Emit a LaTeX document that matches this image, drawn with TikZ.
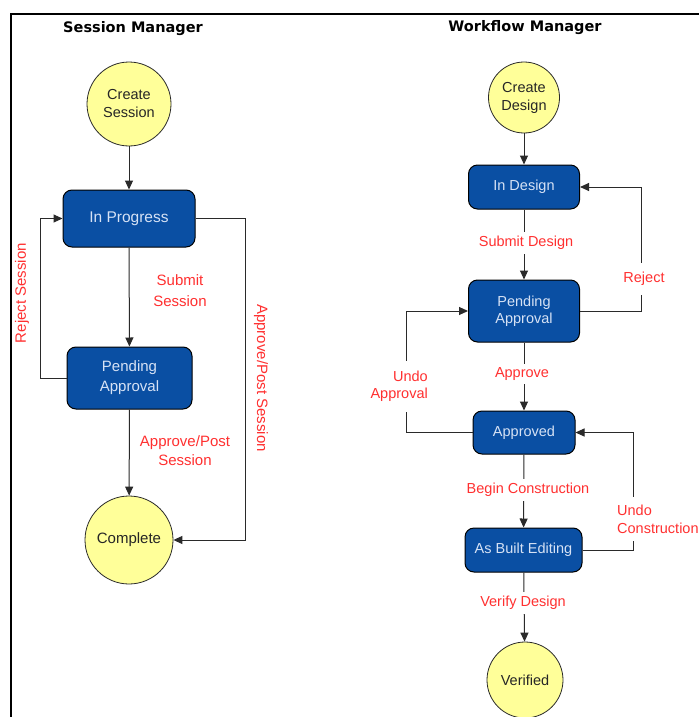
\documentclass[tikz,border=0pt]{standalone}
\usepackage{fontspec}
\setmainfont{Liberation Sans}
\newfontfamily\titlefont{DejaVu Sans}
\usetikzlibrary{arrows.meta}
\definecolor{boxblue}{HTML}{0A4FA3}
\definecolor{boxtext}{HTML}{D6E2F5}
\definecolor{circfill}{HTML}{FFFF99}
\definecolor{lblred}{HTML}{FF3030}
\definecolor{linegray}{HTML}{2A2A2A}
\begin{document}
\begin{tikzpicture}[x=1pt,y=1pt,
  state/.style={draw=black, line width=1pt, fill=boxblue, text=boxtext, rounded corners=9pt,
    inner sep=0pt, align=center, font=\fontsize{14.5}{18}\selectfont},
  endpt/.style={circle, draw=linegray, line width=0.8pt, fill=circfill, inner sep=0pt,
    align=center, font=\fontsize{14.5}{18}\selectfont, text=black!85},
  lbl/.style={text=lblred, font=\fontsize{14.5}{18}\selectfont, align=center, inner sep=1pt},
  cutlbl/.style={lbl, fill=white, inner xsep=2pt, inner ysep=4pt},
  conn/.style={draw=linegray, line width=1pt},
  arr/.style={conn, -{Triangle[length=9pt,width=8pt]}},
  ttl/.style={font=\titlefont\bfseries\fontsize{14.5}{16}\selectfont}]

\useasboundingbox (0,0) rectangle (699,-717);
\fill[white] (0,0) rectangle (699,-717);
\draw[line width=2pt] (11,-717) -- (11,-14) -- (699,-14);

% ---------- Session Manager ----------
\node[ttl] (t1) at (133,-29) {Session Manager};
\node[endpt, minimum size=84pt] (cs) at (129,-104) {Create\\Session};
\node[state, minimum width=132pt, minimum height=57pt, font=\fontsize{15.5}{19}\selectfont] (ip) at (129,-218.5) {In Progress};
\node[state, minimum width=125pt, minimum height=62pt, font=\fontsize{15}{20}\selectfont] (pa1) at (129.5,-378) {Pending\\Approval};
\node[endpt, minimum size=88pt, font=\fontsize{15}{19}\selectfont] (cp) at (129,-540) {Complete};

\draw[arr] (cs) -- (ip);
\draw[arr] (ip) -- (pa1);
\draw[arr] (pa1) -- (cp);
\draw[arr] (pa1.west) -- ++(-26,0) |- (ip.west);
\draw[arr] (ip.east) -- ++(50,0) |- (cp.east);

\node[lbl, rotate=90, font=\fontsize{15}{19}\selectfont] (lrs) at (22,-293) {Reject Session};
\node[lbl, rotate=-90, font=\fontsize{15}{19}\selectfont] (lap) at (261,-378) {Approve/Post Session};
\node[lbl, font=\fontsize{15}{21}\selectfont] (lss) at (180,-291) {Submit\\Session};
\node[lbl, font=\fontsize{15}{19}\selectfont] (lps) at (185,-451) {Approve/Post\\Session};

% ---------- Workflow Manager ----------
\node[ttl] (t2) at (525,-28) {Workflow Manager};
\node[endpt, minimum size=71pt] (cd) at (524,-97.5) {Create\\Design};
\node[state, minimum width=111pt, minimum height=44pt] (idn) at (524,-187) {In Design};
\node[state, minimum width=111pt, minimum height=62pt, font=\fontsize{14.5}{17}\selectfont] (pa2) at (524,-311) {Pending\\Approval};
\node[state, minimum width=102pt, minimum height=43pt] (apd) at (524,-432.5) {Approved};
\node[state, minimum width=117pt, minimum height=44pt] (abe) at (523.5,-550) {As Built Editing};
\node[endpt, minimum size=76pt] (vf) at (525,-680) {Verified};

\draw[arr] (cd) -- (idn);
\draw[arr] (idn) -- (pa2);
\draw[arr] (pa2) -- (apd);
\draw[arr] (apd) -- (abe);
\draw[arr] (abe) -- (vf);
\draw[arr] (pa2.east) -- ++(61,0) |- (idn.east);
\draw[arr] (apd.west) -- ++(-66,0) |- (pa2.west);
\draw[arr] (abe.east) -- ++(51,0) |- (apd.east);

\node[cutlbl] (lsd) at (526,-243) {Submit Design};
\node[cutlbl] (lapp) at (522,-374) {Approve};
\node[cutlbl] (lbc) at (528,-490) {Begin Construction};
\node[cutlbl] (lvd) at (523,-603) {Verify Design};
\node[cutlbl, inner ysep=9pt] (lrj) at (644,-279) {Reject};
\node[cutlbl, align=right, anchor=east, inner ysep=10pt, font=\fontsize{14.5}{17}\selectfont] (lua) at (430,-386.5) {Undo\\Approval};
\node[cutlbl, align=left, anchor=west, inner ysep=8pt] (luc) at (615,-519) {Undo\\Construction};
\end{tikzpicture}
\end{document}
